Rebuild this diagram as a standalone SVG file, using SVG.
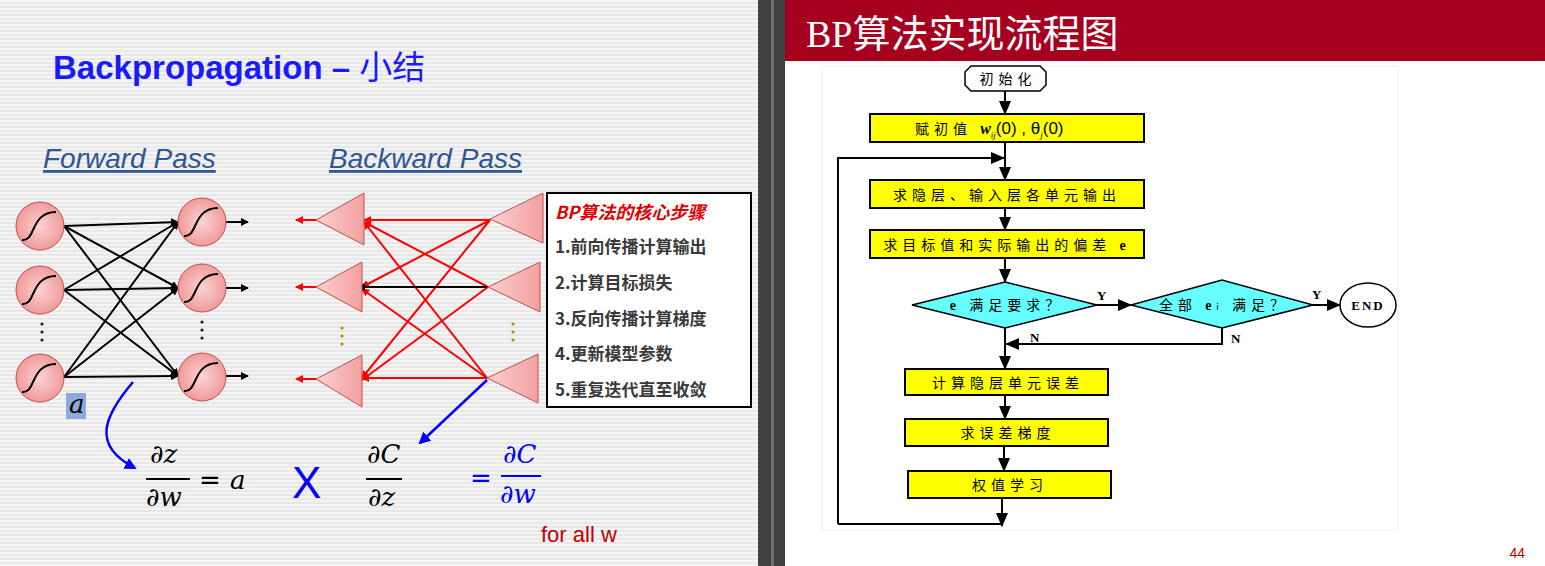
<svg xmlns="http://www.w3.org/2000/svg" width="1545" height="566" viewBox="0 0 1545 566">
<style>
.cn{font-family:"Noto Sans CJK SC",sans-serif}
.box{fill:#ffff00;stroke:#000;stroke-width:2}
.dia{fill:#66ffff;stroke:#000;stroke-width:1.5}
.fl{stroke:#000;stroke-width:2;fill:none}
.ft{font-family:"Noto Sans CJK SC",sans-serif;font-size:14px;letter-spacing:5px;text-anchor:middle}
.nl{stroke:#000;stroke-width:2;fill:none}
.rl{stroke:#ff0000;stroke-width:2;fill:none}
.circ{fill:url(#cg);stroke:#c0504d;stroke-width:1}
.tri{fill:url(#tg);stroke:#c0504d;stroke-width:1}
.math{font-family:"DejaVu Serif",serif;font-style:italic;font-size:26px}
.step{font-family:"Noto Sans CJK SC",sans-serif;font-size:17px;font-weight:bold;fill:#3a3a3a}
</style>
<defs>
<pattern id="st" width="4" height="4" patternUnits="userSpaceOnUse"><rect width="4" height="4" fill="#f4f4f4"/><rect y="2" width="4" height="2" fill="#e8e8e8"/></pattern>
<radialGradient id="cg" cx="0.5" cy="0.5" r="0.5"><stop offset="0" stop-color="#fbd4d4"/><stop offset="1" stop-color="#f29a9a"/></radialGradient>
<linearGradient id="tg" x1="0" x2="1"><stop offset="0" stop-color="#fbd0d0"/><stop offset="1" stop-color="#f3a0a0"/></linearGradient>
<marker id="ab" markerWidth="8" markerHeight="8" refX="7" refY="4" orient="auto" markerUnits="userSpaceOnUse"><path d="M0,0 L8,4 L0,8 z" fill="#000"/></marker>
<marker id="ar" markerWidth="8" markerHeight="8" refX="7" refY="4" orient="auto" markerUnits="userSpaceOnUse"><path d="M0,0 L8,4 L0,8 z" fill="#f00"/></marker>
<marker id="abl" markerWidth="12" markerHeight="12" refX="10" refY="6" orient="auto" markerUnits="userSpaceOnUse"><path d="M0,0 L12,6 L0,12 z" fill="#00f"/></marker>
<marker id="af" markerWidth="14" markerHeight="12" refX="13" refY="6" orient="auto" markerUnits="userSpaceOnUse"><path d="M0,0 L14,6 L0,12 z" fill="#000"/></marker>
</defs>
<rect width="758" height="566" fill="url(#st)"/>
<rect x="758" width="27" height="566" fill="#404040"/>
<rect x="771" width="3" height="566" fill="#707070"/>
<rect x="785" width="760" height="566" fill="#ffffff"/>
<rect x="785" width="760" height="61" fill="#a6001f"/>
<text x="806" y="47" font-family="Liberation Serif,Noto Sans CJK SC,serif" font-size="38" fill="#fff">BP算法实现流程图</text>
<text x="1525" y="558" font-family="Liberation Sans,sans-serif" font-size="14" fill="#c00000" text-anchor="end">44</text>

<text x="53" y="79" font-family="Liberation Sans,Noto Sans CJK SC,sans-serif" font-size="33" font-weight="bold" fill="#1a1aff">Backpropagation – <tspan font-weight="normal">小结</tspan></text>
<text x="43" y="168" font-family="Liberation Sans,sans-serif" font-size="28" font-style="italic" fill="#2f5597" text-decoration="underline">Forward Pass</text>
<text x="329" y="168" font-family="Liberation Sans,sans-serif" font-size="28" font-style="italic" fill="#2f5597" text-decoration="underline">Backward Pass</text>

<g id="forward-connectors">
<g class="nl" marker-end="url(#ab)" stroke-width="1.8">
<line x1="64" y1="226" x2="178" y2="222"/><line x1="64" y1="226" x2="178" y2="288"/><line x1="64" y1="226" x2="178" y2="376"/>
<line x1="64" y1="290" x2="178" y2="222"/><line x1="64" y1="290" x2="178" y2="288"/><line x1="64" y1="290" x2="178" y2="376"/>
<line x1="64" y1="377" x2="178" y2="222"/><line x1="64" y1="377" x2="178" y2="288"/><line x1="64" y1="377" x2="178" y2="376"/>
<line x1="226" y1="222" x2="248" y2="222"/><line x1="226" y1="288" x2="248" y2="288"/><line x1="226" y1="376" x2="248" y2="376"/>
</g>
</g>
<g id="forward-nodes">
<g id="f1"><circle class="circ" cx="40" cy="226" r="24"/><path class="nl" d="M22,240 C36,242 30,212 56,212"/></g>
<g id="f2"><circle class="circ" cx="40" cy="290" r="24"/><path class="nl" d="M22,304 C36,306 30,276 56,276"/></g>
<g id="f3"><circle class="circ" cx="40" cy="378" r="24"/><path class="nl" d="M22,392 C36,394 30,364 56,364"/></g>
<g id="f4"><circle class="circ" cx="202" cy="222" r="24"/><path class="nl" d="M184,236 C198,238 192,208 218,208"/></g>
<g id="f5"><circle class="circ" cx="202" cy="288" r="24"/><path class="nl" d="M184,302 C198,304 192,274 218,274"/></g>
<g id="f6"><circle class="circ" cx="202" cy="377" r="24"/><path class="nl" d="M184,391 C198,393 192,363 218,363"/></g>
<g fill="#222"><circle cx="42" cy="324" r="1.6"/><circle cx="42" cy="332" r="1.6"/><circle cx="42" cy="340" r="1.6"/>
<circle cx="202" cy="322" r="1.6"/><circle cx="202" cy="330" r="1.6"/><circle cx="202" cy="338" r="1.6"/></g>
<g fill="#b58b00"><circle cx="342" cy="328" r="1.6"/><circle cx="342" cy="336" r="1.6"/><circle cx="342" cy="344" r="1.6"/>
<circle cx="513" cy="324" r="1.6"/><circle cx="513" cy="332" r="1.6"/><circle cx="513" cy="340" r="1.6"/></g>
<rect x="66" y="393" width="20" height="26" fill="#8ea9db"/>
<text x="69" y="413" class="math" font-size="20">a</text>
</g>

<g id="backward-connectors">
<g class="rl" marker-end="url(#ar)">
<line x1="490" y1="220" x2="364" y2="220"/><line x1="490" y1="220" x2="362" y2="287"/><line x1="490" y1="220" x2="362" y2="378"/>
<line x1="488" y1="287" x2="364" y2="222"/><line x1="488" y1="287" x2="362" y2="380"/>
<line x1="487" y1="378" x2="364" y2="222"/><line x1="487" y1="378" x2="362" y2="289"/><line x1="487" y1="378" x2="362" y2="378"/>
<line x1="316" y1="220" x2="296" y2="220"/><line x1="316" y1="287" x2="296" y2="287"/><line x1="316" y1="379" x2="296" y2="379"/>
</g>
<line class="nl" x1="487" y1="287" x2="358" y2="287" marker-end="url(#ab)"/>
</g>
<g id="backward-nodes">
<polygon class="tri" points="316,220 364,193 364,245"/>
<polygon class="tri" points="316,287 362,262 362,312"/>
<polygon class="tri" points="316,379 362,355 362,407"/>
<polygon class="tri" points="490,219 543,193 543,243"/>
<polygon class="tri" points="488,287 540,262 540,312"/>
<polygon class="tri" points="487,378 538,354 538,403"/>
</g>

<g id="steps">
<rect x="547" y="193" width="204" height="214" fill="#fff" stroke="#000" stroke-width="2"/>
<text x="555" y="219" font-family="Noto Sans CJK SC,sans-serif" font-size="18" font-weight="bold" font-style="italic" fill="#e00000">BP算法的核心步骤</text>
<text x="555" y="253" class="step">1.前向传播计算输出</text>
<text x="555" y="289" class="step">2.计算目标损失</text>
<text x="555" y="325" class="step">3.反向传播计算梯度</text>
<text x="555" y="360" class="step">4.更新模型参数</text>
<text x="555" y="396" class="step">5.重复迭代直至收敛</text>
</g>

<g id="blue-arrows" stroke="#0000ff" stroke-width="2.5" fill="none">
<path d="M133,382 C105,415 90,445 135,468" marker-end="url(#abl)"/>
<path d="M487,380 L420,443" marker-end="url(#abl)"/>
</g>

<g id="formula">
<text x="150" y="463" class="math">∂z</text>
<line x1="146" y1="479" x2="190" y2="479" stroke="#000" stroke-width="2"/>
<text x="146" y="506" class="math">∂w</text>
<text x="199" y="489" font-family="DejaVu Sans,sans-serif" font-size="26">=</text>
<text x="230" y="489" class="math">a</text>
<text x="292" y="498" font-family="Liberation Sans,sans-serif" font-size="44" fill="#0000ff">X</text>
<text x="367" y="463" class="math">∂C</text>
<line x1="366" y1="479" x2="402" y2="479" stroke="#000" stroke-width="2"/>
<text x="368" y="506" class="math">∂z</text>
<text x="470" y="487" font-family="DejaVu Sans,sans-serif" font-size="26" fill="#0000ff">=</text>
<text x="503" y="463" class="math" fill="#0000ff">∂C</text>
<line x1="501" y1="476" x2="541" y2="476" stroke="#0000ff" stroke-width="2"/>
<text x="500" y="503" class="math" fill="#0000ff">∂w</text>
<text x="541" y="542" font-family="Liberation Sans,sans-serif" font-size="22" fill="#c00000">for all w</text>
</g>

<rect x="822" y="66" width="576" height="464" fill="#fff" stroke="#eee"/>
<g id="connectors">
<g class="fl" marker-end="url(#af)">
<line x1="1005" y1="91" x2="1005" y2="114"/>
<line x1="1005" y1="142" x2="1005" y2="180"/>
<polyline points="838,524 838,158 1004,158"/>
<line x1="1005" y1="208" x2="1005" y2="230"/>
<line x1="1005" y1="258" x2="1005" y2="282"/>
<line x1="1097" y1="305" x2="1131" y2="305"/>
<line x1="1313" y1="305" x2="1340" y2="305"/>
<polyline points="1222,328 1222,344 1006,344"/>
<line x1="1005" y1="328" x2="1005" y2="369"/>
<line x1="1005" y1="395" x2="1005" y2="419"/>
<line x1="1004" y1="446" x2="1004" y2="471"/>
<polyline points="1002,498 1002,526"/>
</g>
<line class="fl" x1="838" y1="524" x2="1002" y2="524"/>
<g font-family="Liberation Serif,serif" font-weight="bold" font-size="13">
<text x="1097" y="300">Y</text><text x="1312" y="299">Y</text>
<text x="1030" y="342">N</text><text x="1231" y="343">N</text>
</g>
</g>
<g id="n-init"><path d="M971,66 L1040,66 L1046,72 L1046,85 L1040,91 L971,91 L965,85 L965,72 Z" fill="#fff" stroke="#000" stroke-width="1.5"/><text x="1008" y="84" class="ft">初始化</text></g>
<g id="n-w"><rect class="box" x="870" y="114" width="274" height="28"/><text x="915" y="134" font-family="Noto Sans CJK SC,sans-serif" font-size="14"><tspan letter-spacing="5">赋初值 </tspan><tspan font-family="Liberation Serif,serif" font-weight="bold" font-style="italic" font-size="16">w</tspan><tspan font-family="Liberation Serif,serif" font-size="9" font-style="italic" dy="4">ij</tspan><tspan font-family="Liberation Sans,sans-serif" font-size="17" dy="-4">(0) ,  θ</tspan><tspan font-family="Liberation Serif,serif" font-size="9" font-style="italic" dy="4">j</tspan><tspan font-family="Liberation Sans,sans-serif" font-size="17" dy="-4">(0)</tspan></text></g>
<g id="n-out"><rect class="box" x="870" y="180" width="274" height="28"/><text x="1007" y="200" class="ft">求隐层、输入层各单元输出</text></g>
<g id="n-err"><rect class="box" x="870" y="230" width="274" height="28"/><text x="1007" y="250" class="ft">求目标值和实际输出的偏差 <tspan font-family="Liberation Serif,serif" font-weight="bold">e</tspan></text></g>
<g id="n-d1"><polygon class="dia" points="912,305 1005,282 1097,305 1005,328"/><text x="1007" y="310" class="ft"><tspan font-family="Liberation Serif,serif" font-weight="bold">e</tspan> 满足要求？</text></g>
<g id="n-d2"><polygon class="dia" points="1131,305 1222,280 1313,305 1222,328"/><text x="1224" y="310" class="ft">全部 <tspan font-family="Liberation Serif,serif" font-weight="bold">e</tspan><tspan font-size="9">i</tspan> 满足？</text></g>
<g id="n-end"><ellipse cx="1368" cy="305" rx="28" ry="22" fill="#fff" stroke="#000" stroke-width="1.5"/><text x="1368" y="310" font-family="Liberation Serif,serif" font-weight="bold" font-size="13" text-anchor="middle" letter-spacing="2">END</text></g>
<g id="n-hid"><rect class="box" x="905" y="369" width="203" height="26"/><text x="1008" y="388" class="ft">计算隐层单元误差</text></g>
<g id="n-grad"><rect class="box" x="905" y="419" width="203" height="27"/><text x="1008" y="438" class="ft">求误差梯度</text></g>
<g id="n-learn"><rect class="box" x="908" y="471" width="203" height="27"/><text x="1010" y="490" class="ft" letter-spacing="12">权值学习</text></g>
</svg>
